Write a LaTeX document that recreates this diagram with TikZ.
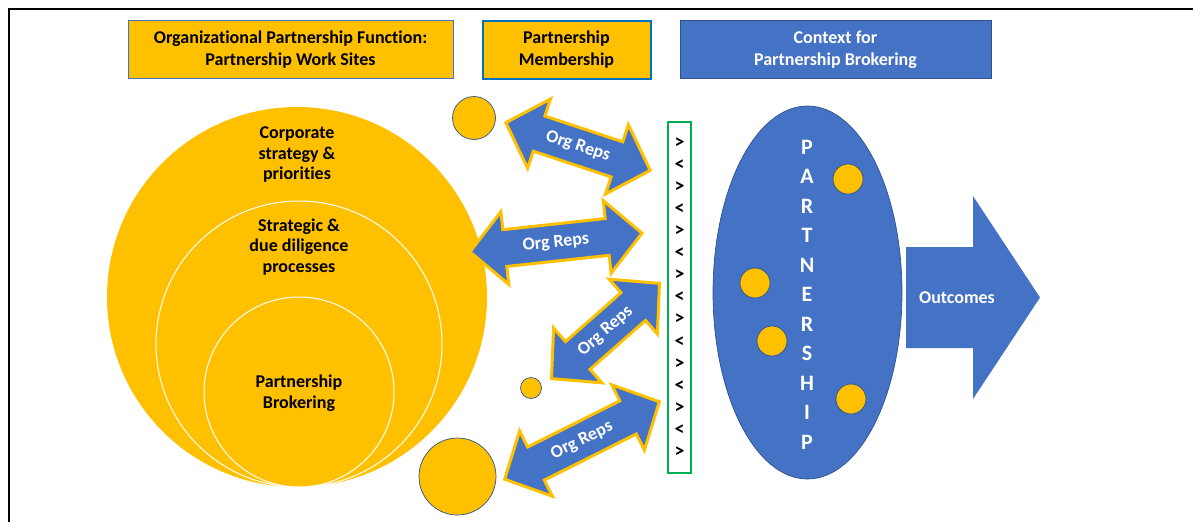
\documentclass[tikz,border=0pt]{standalone}
\usepackage{fontspec}
\setmainfont{Carlito}[Ligatures=NoCommon]
\usetikzlibrary{shapes.geometric}

\definecolor{ppgold}{HTML}{FFC000}
\definecolor{ppblue}{HTML}{4472C4}
\definecolor{ppdark}{HTML}{2F528F}
\definecolor{ppgreen}{HTML}{00B050}
\definecolor{ppedge}{HTML}{0070C0}

\tikzset{
  headbox/.style={minimum height=58, inner sep=0pt, align=center,
    font=\bfseries\fontsize{18}{21.5}\selectfont},
  ring/.style={circle, fill=ppgold, draw=white, line width=1pt, inner sep=0pt},
  member/.style={circle, fill=ppgold, draw=ppdark, line width=0.7pt, inner sep=0pt},
  ringtext/.style={align=center, inner sep=0pt, font=\bfseries\fontsize{18}{20.5}\selectfont},
  repsarrow/.style={fill=ppblue, draw=ppgold, line width=3pt, line join=miter},
  repstext/.style={text=white, inner sep=0pt, font=\bfseries\fontsize{18}{20}\selectfont},
  chev/.style={inner sep=0pt, font=\bfseries\fontsize{20}{20}\selectfont},
  bigletter/.style={text=white, inner sep=0pt, font=\bfseries\fontsize{22}{24}\selectfont},
}

% double headed arrow: name, centre, angle, length
\newcommand{\orgarrow}[4]{%
  \begin{scope}[shift={(#2)}, rotate=#3]
    \draw[repsarrow] ({-#4/2},0) -- ({-#4/2+35},36.5) -- ({-#4/2+35},18.5)
      -- ({#4/2-35},18.5) -- ({#4/2-35},36.5) -- ({#4/2},0)
      -- ({#4/2-35},-36.5) -- ({#4/2-35},-18.5) -- ({-#4/2+35},-18.5)
      -- ({-#4/2+35},-36.5) -- cycle;
    \node[repstext, transform shape] (#1) at (0,0) {Org Reps};
  \end{scope}}

\begin{document}
\begin{tikzpicture}[x=1pt, y=-1pt]
  \useasboundingbox (0,0) rectangle (1193,522);
  \draw[line width=1.8pt] (9,522) -- (9,9) -- (1193,9);

  % headings
  \node[headbox, fill=ppgold, draw=ppblue, line width=0.8pt, minimum width=325] (sites) at (290.5,49.7)
    {Organizational Partnership Function:\\Partnership Work Sites};
  \node[headbox, fill=ppgold, draw=ppedge, line width=2pt, minimum width=168] (membership) at (566.5,49.7)
    {Partnership\\Membership};
  \node[headbox, fill=ppblue, draw=ppdark, line width=0.8pt, minimum width=311, text=white] (context) at (835.5,49.7)
    {Context for\\Partnership Brokering};

  % work sites
  \node[circle, fill=ppgold, inner sep=0pt, minimum size=380] (corporate) at (297,297) {};
  \node[ring, minimum size=286] (strategic) at (299,344) {};
  \node[ring, minimum size=190] (brokering) at (299,392) {};
  \node[ringtext] (corporatetext) at (297,155) {Corporate\\strategy \&\\priorities};
  \node[ringtext] (strategictext) at (299,247) {Strategic \&\\due diligence\\processes};
  \node[ringtext] (brokeringtext) at (299,393) {Partnership\\Brokering};

  % members
  \node[member, minimum size=43] (memberA) at (474,118) {};
  \node[member, minimum size=21] (memberB) at (531,388) {};
  \node[member, minimum size=77] (memberC) at (457.5,476.5) {};

  \orgarrow{repsA}{578,146.5}{-18.3}{152}
  \orgarrow{repsB}{556,242.5}{6.2}{173}
  \orgarrow{repsC}{605.5,331}{41.4}{144}
  \orgarrow{repsD}{582,440.5}{26.6}{173}

  % exchange column
  \node[draw=ppgreen, fill=white, line width=2.5pt, minimum width=23, minimum height=351, inner sep=0pt] (column) at (679.5,297.5) {};
  \foreach \i [evaluate=\i as \ypos using 143+22.07*\i] in {0,...,14}
    \node[chev] (chev\i) at (679.5,\ypos) {\ifodd\i <\else >\fi};

  % partnership
  \node[ellipse, fill=ppblue, draw=ppdark, line width=0.7pt, minimum width=189, minimum height=373, inner sep=0pt] (partnership) at (807.5,292.5) {};
  \foreach \ch [count=\k from 0] in {P,A,R,T,N,E,R,S,H,I,P}
    \node[bigletter] (letter\k) at (807,147+29.5*\k) {\ch};
  \node[member, minimum size=30] (dotA) at (848,179) {};
  \node[member, minimum size=30] (dotB) at (755,283) {};
  \node[member, minimum size=30] (dotC) at (772,341) {};
  \node[member, minimum size=30] (dotD) at (851,399) {};

  % outcomes
  \fill[ppblue] (906,247) -- (973,247) -- (973,196) -- (1040,297.5) -- (973,399) -- (973,348) -- (906,348) -- cycle;
  \node[ringtext, text=white] (outcomes) at (957,298) {Outcomes};
\end{tikzpicture}
\end{document}
